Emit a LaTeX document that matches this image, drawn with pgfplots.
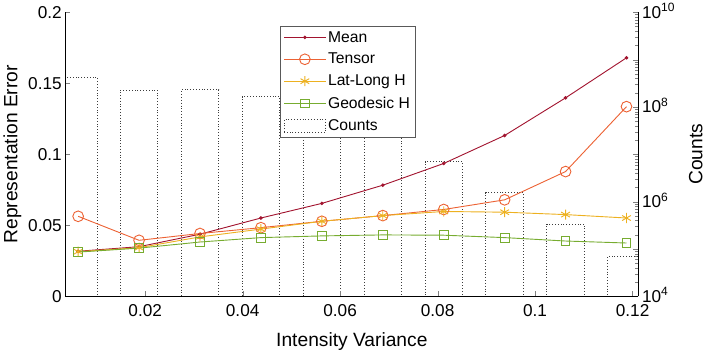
\documentclass[border=0pt]{standalone}
\usepackage{fontspec}
\setmainfont{Liberation Sans}
\usepackage{pgfplots}
\pgfplotsset{compat=1.18}

\definecolor{meanred}{RGB}{162,20,47}
\definecolor{tensororange}{RGB}{236,98,52}
\definecolor{latyellow}{RGB}{237,177,32}
\definecolor{geogreen}{RGB}{119,172,48}
\definecolor{bargray}{RGB}{60,60,60}

\begin{document}
\begin{tikzpicture}
\pgfplotsset{every axis/.append style={
  scale only axis, width=567pt, height=281pt,
  xmin=0.0036, xmax=0.1212,
  font=\fontsize{17}{20}\selectfont,
  scaled ticks=false,
  tick align=inside,
  axis line style={-, line width=0.7pt},
  major tick length=5pt, minor tick length=3pt,
}}

% counts histogram, right log axis
\begin{axis}[
  ymode=log, ymin=1e4, ymax=1e10,
  axis y line*=right, axis x line=none,
  ytickten={4,...,10},
  yticklabels={10\textsuperscript{4},,10\textsuperscript{6},,10\textsuperscript{8},,10\textsuperscript{10}},
  yticklabel style={yshift=1.5pt},
  ylabel={Counts},
  label style={font=\fontsize{19}{22}\selectfont},
  ylabel style={yshift=-7pt},
  ybar, bar width=0.0077, log origin=infty,
]
\addplot[draw=bargray, dotted, fill=none, line width=0.8pt] coordinates {
(0.00625,4.3e8)
(0.01875,2.25e8)
(0.03125,2.3e8)
(0.04375,1.65e8)
(0.05625,1.0e8)
(0.06875,4.0e7)
(0.08125,7.0e6)
(0.09375,1.55e6)
(0.10625,3.4e5)
(0.11875,7.0e4)
};
\end{axis}

% representation error, left axis
\begin{axis}[
  axis x line*=bottom, axis y line*=left,
  ymin=0, ymax=0.2,
  ytick={0,0.05,0.1,0.15,0.2},
  yticklabels={0,0.05,0.1,0.15,0.2},
  xtick={0.02,0.04,0.06,0.08,0.1,0.12},
  xticklabels={0.02,0.04,0.06,0.08,0.1,0.12},
  xticklabel shift=4pt,
  xlabel={Intensity Variance},
  ylabel={Representation Error},
  label style={font=\fontsize{19}{22}\selectfont},
  xlabel style={yshift=-9pt},
  legend cell align=left,
  legend style={at={(0.3755,0.952)}, anchor=north west, draw=black!65,
    font=\fontsize{15.5}{18}\selectfont, row sep=5.5pt, inner sep=3pt},
  legend image code/.code={
    \draw[mark repeat=2,mark phase=2] plot coordinates {(0cm,0cm) (0.72cm,0cm) (1.44cm,0cm)};},
  every axis plot/.append style={line width=0.9pt},
]
\addplot[meanred, mark=*, mark size=1.3] coordinates {
(0.00625,0.0318) (0.01875,0.0350) (0.03125,0.0438) (0.04375,0.0552) (0.05625,0.0655)
(0.06875,0.0783) (0.08125,0.0936) (0.09375,0.1133) (0.10625,0.1398) (0.11875,0.1680)
};
\addplot[tensororange, mark=o, mark size=5.3] coordinates {
(0.00625,0.0564) (0.01875,0.0395) (0.03125,0.0443) (0.04375,0.0484) (0.05625,0.0529)
(0.06875,0.0569) (0.08125,0.0612) (0.09375,0.0680) (0.10625,0.0879) (0.11875,0.1336)
};
\addplot[latyellow, mark=asterisk, mark size=5] coordinates {
(0.00625,0.0315) (0.01875,0.0343) (0.03125,0.0419) (0.04375,0.0474) (0.05625,0.0529)
(0.06875,0.0569) (0.08125,0.0598) (0.09375,0.0593) (0.10625,0.0576) (0.11875,0.0552)
};
\addplot[geogreen, mark=square, mark size=4.3] coordinates {
(0.00625,0.0312) (0.01875,0.0340) (0.03125,0.0383) (0.04375,0.0414) (0.05625,0.0426)
(0.06875,0.0433) (0.08125,0.0431) (0.09375,0.0414) (0.10625,0.0390) (0.11875,0.0376)
};
\addlegendimage{legend image code/.code={
  \draw[bargray, dotted, line width=0.8pt] (0cm,-0.22cm) rectangle (1.44cm,0.22cm);}}
\legend{Mean,Tensor,Lat-Long H,Geodesic H,Counts}
\end{axis}
\end{tikzpicture}
\end{document}
